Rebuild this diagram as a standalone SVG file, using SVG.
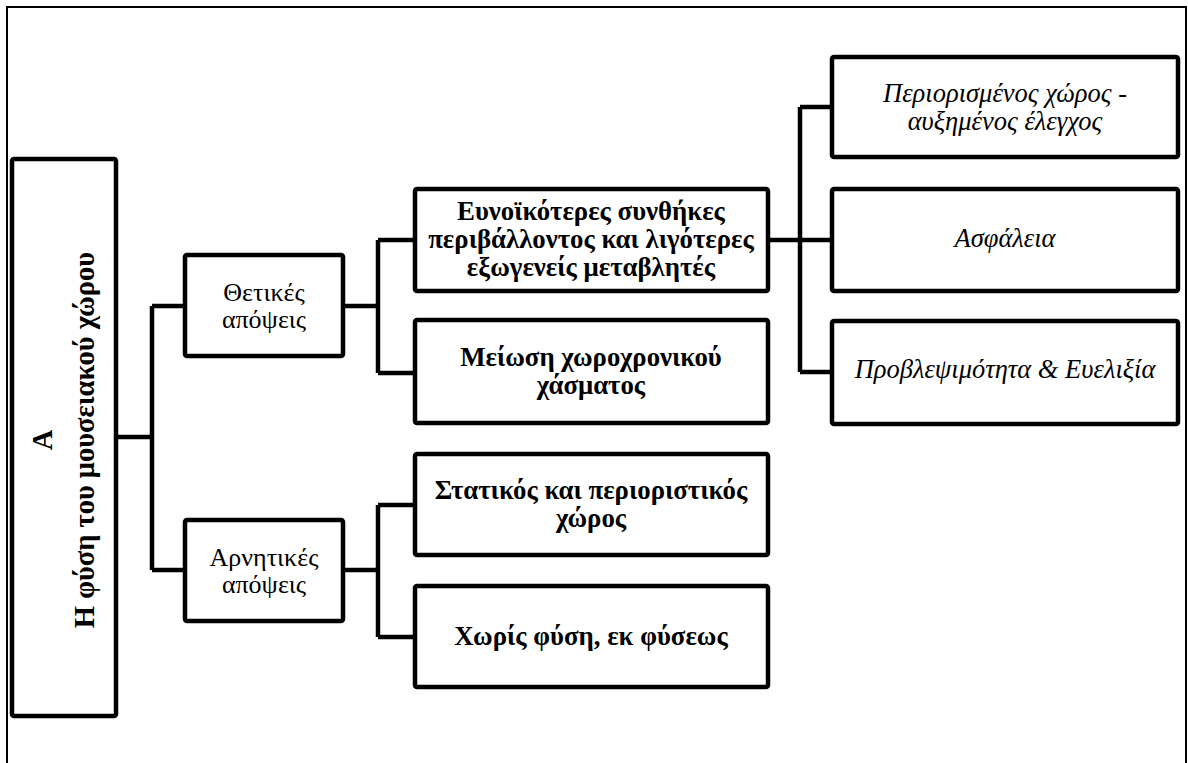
<svg xmlns="http://www.w3.org/2000/svg" width="1188" height="763" viewBox="0 0 1188 763">
<style>
.box{fill:#fff;stroke:#000;stroke-width:4.5;stroke-linejoin:round}
.con{fill:none;stroke:#000;stroke-width:4.5;stroke-linejoin:round}
</style>
<rect width="1188" height="763" fill="#fff"/>
<path d="M7,763 V7 H1186 V763" fill="none" stroke="#000" stroke-width="2"/>
<g id="connectors" class="con">
<path d="M116,437 H152 M152,306 V570 M152,306 H185 M152,570 H185"/>
<path d="M343,306 H378 M378,240 V373 M378,240 H415 M378,373 H415"/>
<path d="M343,570 H378 M378,505 V637 M378,505 H415 M378,637 H415"/>
<path d="M768,240 H800 M800,107 V372 M800,107 H832 M800,240 H832 M800,372 H832"/>
</g>
<g font-family="Liberation Serif, Times New Roman, serif" text-anchor="middle" fill="#000">
<g id="nodeA">
<rect class="box" x="12" y="159" width="104" height="557" rx="2"/>
<text font-size="28.5" font-weight="bold" transform="translate(52,440) rotate(-90)">Α</text>
<text font-size="28.5" font-weight="bold" transform="translate(94,440) rotate(-90)">Η φύση του μουσειακού χώρου</text>
</g>
<g id="nodePos">
<rect class="box" x="185" y="255" width="158" height="101" rx="2"/>
<text font-size="26" x="264" y="300.5">Θετικές</text>
<text font-size="26" x="264" y="328">απόψεις</text>
</g>
<g id="nodeNeg">
<rect class="box" x="185" y="520" width="158" height="101" rx="2"/>
<text font-size="26" x="264" y="565.5">Αρνητικές</text>
<text font-size="26" x="264" y="593">απόψεις</text>
</g>
<g id="nodeEnv" font-size="26.8" font-weight="bold">
<rect class="box" x="415" y="189" width="353" height="102" rx="2"/>
<text x="591" y="220">Ευνοϊκότερες συνθήκες</text>
<text x="591" y="248">περιβάλλοντος και λιγότερες</text>
<text x="591" y="276">εξωγενείς μεταβλητές</text>
</g>
<g id="nodeGap" font-size="26.8" font-weight="bold">
<rect class="box" x="415" y="320" width="353" height="103" rx="2"/>
<text x="591" y="366">Μείωση χωροχρονικού</text>
<text x="591" y="394">χάσματος</text>
</g>
<g id="nodeStatic" font-size="26.8" font-weight="bold">
<rect class="box" x="415" y="454" width="353" height="101" rx="2"/>
<text x="591" y="499">Στατικός και περιοριστικός</text>
<text x="591" y="527">χώρος</text>
</g>
<g id="nodeNature" font-size="26.8" font-weight="bold">
<rect class="box" x="415" y="586" width="353" height="101" rx="2"/>
<text x="591" y="645">Χωρίς φύση, εκ φύσεως</text>
</g>
<g id="nodeLimited" font-size="26.5" font-style="italic">
<rect class="box" x="832" y="57" width="346" height="100" rx="2"/>
<text x="1005" y="102">Περιορισμένος χώρος -</text>
<text x="1005" y="130">αυξημένος έλεγχος</text>
</g>
<g id="nodeSafety" font-size="26.5" font-style="italic">
<rect class="box" x="832" y="189" width="346" height="102" rx="2"/>
<text x="1005" y="247">Ασφάλεια</text>
</g>
<g id="nodePredict" font-size="26.5" font-style="italic">
<rect class="box" x="832" y="321" width="346" height="103" rx="2"/>
<text x="1005" y="378">Προβλεψιμότητα &amp; Ευελιξία</text>
</g>
</g>
</svg>
